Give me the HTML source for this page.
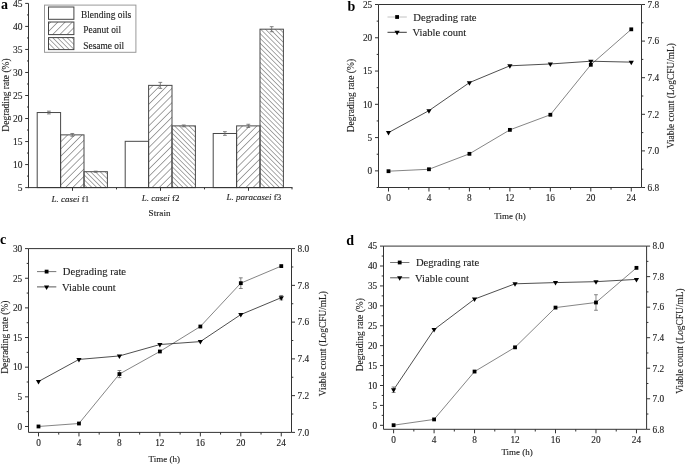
<!DOCTYPE html>
<html><head><meta charset="utf-8"><style>
html,body{margin:0;padding:0;background:#fff;width:685px;height:464px;overflow:hidden;}
svg{display:block;font-family:"Liberation Serif", serif;will-change:transform;}
</style></head><body>
<svg width="685" height="464" viewBox="0 0 685 464">
<rect width="685" height="464" fill="#fff"/>
<defs><pattern id="pn" patternUnits="userSpaceOnUse" width="5.1" height="5.1" patternTransform="rotate(45)"><line x1="0" y1="0" x2="0" y2="5.1" stroke="#404040" stroke-width="0.95"/></pattern><pattern id="ss" patternUnits="userSpaceOnUse" width="3.4" height="3.4" patternTransform="rotate(-45)"><line x1="0" y1="0" x2="0" y2="3.4" stroke="#404040" stroke-width="0.9"/></pattern></defs>
<text x="1" y="8.6" font-size="14" text-anchor="start" font-weight="bold" font-style="normal" fill="#000" >a</text>
<rect x="37.2" y="112.54" width="23.4" height="75.06" fill="#fff" stroke="#484848" stroke-width="1"/>
<rect x="60.6" y="134.87" width="23.4" height="52.73" fill="url(#pn)" stroke="#484848" stroke-width="1"/>
<rect x="84" y="171.71" width="23.4" height="15.89" fill="url(#ss)" stroke="#484848" stroke-width="1"/>
<rect x="125.2" y="141.32" width="23.4" height="46.28" fill="#fff" stroke="#484848" stroke-width="1"/>
<rect x="148.6" y="85.37" width="23.4" height="102.23" fill="url(#pn)" stroke="#484848" stroke-width="1"/>
<rect x="172" y="125.89" width="23.4" height="61.71" fill="url(#ss)" stroke="#484848" stroke-width="1"/>
<rect x="213.2" y="133.49" width="23.4" height="54.11" fill="#fff" stroke="#484848" stroke-width="1"/>
<rect x="236.6" y="125.89" width="23.4" height="61.71" fill="url(#pn)" stroke="#484848" stroke-width="1"/>
<rect x="260" y="29.19" width="23.4" height="158.41" fill="url(#ss)" stroke="#484848" stroke-width="1"/>
<line x1="48.9" y1="111.16" x2="48.9" y2="113.92" stroke="#666" stroke-width="0.8" />
<line x1="47" y1="111.16" x2="50.8" y2="111.16" stroke="#666" stroke-width="0.8" />
<line x1="47" y1="113.92" x2="50.8" y2="113.92" stroke="#666" stroke-width="0.8" />
<line x1="72.3" y1="133.49" x2="72.3" y2="136.25" stroke="#666" stroke-width="0.8" />
<line x1="70.4" y1="133.49" x2="74.2" y2="133.49" stroke="#666" stroke-width="0.8" />
<line x1="70.4" y1="136.25" x2="74.2" y2="136.25" stroke="#666" stroke-width="0.8" />
<line x1="95.7" y1="171.16" x2="95.7" y2="172.27" stroke="#666" stroke-width="0.8" />
<line x1="93.8" y1="171.16" x2="97.6" y2="171.16" stroke="#666" stroke-width="0.8" />
<line x1="93.8" y1="172.27" x2="97.6" y2="172.27" stroke="#666" stroke-width="0.8" />
<line x1="160.3" y1="82.38" x2="160.3" y2="88.36" stroke="#666" stroke-width="0.8" />
<line x1="158.4" y1="82.38" x2="162.2" y2="82.38" stroke="#666" stroke-width="0.8" />
<line x1="158.4" y1="88.36" x2="162.2" y2="88.36" stroke="#666" stroke-width="0.8" />
<line x1="183.7" y1="124.97" x2="183.7" y2="126.81" stroke="#666" stroke-width="0.8" />
<line x1="181.8" y1="124.97" x2="185.6" y2="124.97" stroke="#666" stroke-width="0.8" />
<line x1="181.8" y1="126.81" x2="185.6" y2="126.81" stroke="#666" stroke-width="0.8" />
<line x1="224.9" y1="131.65" x2="224.9" y2="135.33" stroke="#666" stroke-width="0.8" />
<line x1="223" y1="131.65" x2="226.8" y2="131.65" stroke="#666" stroke-width="0.8" />
<line x1="223" y1="135.33" x2="226.8" y2="135.33" stroke="#666" stroke-width="0.8" />
<line x1="248.3" y1="124.28" x2="248.3" y2="127.5" stroke="#666" stroke-width="0.8" />
<line x1="246.4" y1="124.28" x2="250.2" y2="124.28" stroke="#666" stroke-width="0.8" />
<line x1="246.4" y1="127.5" x2="250.2" y2="127.5" stroke="#666" stroke-width="0.8" />
<line x1="271.7" y1="26.66" x2="271.7" y2="31.72" stroke="#666" stroke-width="0.8" />
<line x1="269.8" y1="26.66" x2="273.6" y2="26.66" stroke="#666" stroke-width="0.8" />
<line x1="269.8" y1="31.72" x2="273.6" y2="31.72" stroke="#666" stroke-width="0.8" />
<line x1="28.5" y1="3.4" x2="28.5" y2="188.1" stroke="#333" stroke-width="1" />
<line x1="28" y1="187.6" x2="292.5" y2="187.6" stroke="#333" stroke-width="1" />
<line x1="25.2" y1="187.6" x2="28.5" y2="187.6" stroke="#333" stroke-width="1" />
<text x="22.6" y="190.8" font-size="9.5" text-anchor="end" font-weight="normal" font-style="normal" fill="#222" stroke="#222" stroke-width="0.12" >5</text>
<line x1="25.2" y1="164.57" x2="28.5" y2="164.57" stroke="#333" stroke-width="1" />
<text x="22.6" y="167.77" font-size="9.5" text-anchor="end" font-weight="normal" font-style="normal" fill="#222" stroke="#222" stroke-width="0.12" >10</text>
<line x1="25.2" y1="141.55" x2="28.5" y2="141.55" stroke="#333" stroke-width="1" />
<text x="22.6" y="144.75" font-size="9.5" text-anchor="end" font-weight="normal" font-style="normal" fill="#222" stroke="#222" stroke-width="0.12" >15</text>
<line x1="25.2" y1="118.52" x2="28.5" y2="118.52" stroke="#333" stroke-width="1" />
<text x="22.6" y="121.72" font-size="9.5" text-anchor="end" font-weight="normal" font-style="normal" fill="#222" stroke="#222" stroke-width="0.12" >20</text>
<line x1="25.2" y1="95.5" x2="28.5" y2="95.5" stroke="#333" stroke-width="1" />
<text x="22.6" y="98.7" font-size="9.5" text-anchor="end" font-weight="normal" font-style="normal" fill="#222" stroke="#222" stroke-width="0.12" >25</text>
<line x1="25.2" y1="72.47" x2="28.5" y2="72.47" stroke="#333" stroke-width="1" />
<text x="22.6" y="75.67" font-size="9.5" text-anchor="end" font-weight="normal" font-style="normal" fill="#222" stroke="#222" stroke-width="0.12" >30</text>
<line x1="25.2" y1="49.45" x2="28.5" y2="49.45" stroke="#333" stroke-width="1" />
<text x="22.6" y="52.65" font-size="9.5" text-anchor="end" font-weight="normal" font-style="normal" fill="#222" stroke="#222" stroke-width="0.12" >35</text>
<line x1="25.2" y1="26.42" x2="28.5" y2="26.42" stroke="#333" stroke-width="1" />
<text x="22.6" y="29.62" font-size="9.5" text-anchor="end" font-weight="normal" font-style="normal" fill="#222" stroke="#222" stroke-width="0.12" >40</text>
<line x1="25.2" y1="3.4" x2="28.5" y2="3.4" stroke="#333" stroke-width="1" />
<text x="22.6" y="6.6" font-size="9.5" text-anchor="end" font-weight="normal" font-style="normal" fill="#222" stroke="#222" stroke-width="0.12" >45</text>
<line x1="27" y1="176.09" x2="28.5" y2="176.09" stroke="#333" stroke-width="1" />
<line x1="27" y1="153.06" x2="28.5" y2="153.06" stroke="#333" stroke-width="1" />
<line x1="27" y1="130.04" x2="28.5" y2="130.04" stroke="#333" stroke-width="1" />
<line x1="27" y1="107.01" x2="28.5" y2="107.01" stroke="#333" stroke-width="1" />
<line x1="27" y1="83.99" x2="28.5" y2="83.99" stroke="#333" stroke-width="1" />
<line x1="27" y1="60.96" x2="28.5" y2="60.96" stroke="#333" stroke-width="1" />
<line x1="27" y1="37.94" x2="28.5" y2="37.94" stroke="#333" stroke-width="1" />
<line x1="27" y1="14.91" x2="28.5" y2="14.91" stroke="#333" stroke-width="1" />
<line x1="72.5" y1="187.6" x2="72.5" y2="190.8" stroke="#333" stroke-width="1" />
<line x1="160.5" y1="187.6" x2="160.5" y2="190.8" stroke="#333" stroke-width="1" />
<line x1="248.5" y1="187.6" x2="248.5" y2="190.8" stroke="#333" stroke-width="1" />
<line x1="116.5" y1="187.6" x2="116.5" y2="189.4" stroke="#333" stroke-width="1" />
<line x1="204.5" y1="187.6" x2="204.5" y2="189.4" stroke="#333" stroke-width="1" />
<line x1="292" y1="187.6" x2="292" y2="189.4" stroke="#333" stroke-width="1" />
<text x="51.4" y="201.6" font-size="9" text-anchor="start" font-weight="normal" font-style="normal" fill="#222" stroke="#222" stroke-width="0.12" ><tspan font-style="italic">L. casei</tspan> f1</text>
<text x="141.7" y="201" font-size="9" text-anchor="start" font-weight="normal" font-style="normal" fill="#222" stroke="#222" stroke-width="0.12" ><tspan font-style="italic">L. casei</tspan> f2</text>
<text x="226.4" y="200.4" font-size="9" text-anchor="start" font-weight="normal" font-style="normal" fill="#222" stroke="#222" stroke-width="0.12" ><tspan font-style="italic">L. paracasei</tspan> f3</text>
<text x="148.6" y="215.6" font-size="9.2" text-anchor="start" font-weight="normal" font-style="normal" fill="#222" stroke="#222" stroke-width="0.12" >Strain</text>
<text x="9.2" y="95" font-size="9.5" text-anchor="middle" font-weight="normal" font-style="normal" fill="#222" stroke="#222" stroke-width="0.12" transform="rotate(-90 9.2 95)" >Degrading rate (%)</text>
<rect x="44.5" y="5.1" width="91.4" height="47.2" fill="none" stroke="#999" stroke-width="1"/>
<rect x="48.5" y="7" width="25.4" height="12.3" fill="#fff" stroke="#444" stroke-width="1"/>
<rect x="48.5" y="22" width="25.4" height="12.6" fill="url(#pn)" stroke="#444" stroke-width="1"/>
<rect x="48.5" y="37.6" width="25.4" height="12" fill="url(#ss)" stroke="#444" stroke-width="1"/>
<text x="81" y="18.1" font-size="9.4" text-anchor="start" font-weight="normal" font-style="normal" fill="#222" stroke="#222" stroke-width="0.12" >Blending oils</text>
<text x="83.3" y="33.3" font-size="9.4" text-anchor="start" font-weight="normal" font-style="normal" fill="#222" stroke="#222" stroke-width="0.12" >Peanut oil</text>
<text x="83.3" y="48.9" font-size="9.4" text-anchor="start" font-weight="normal" font-style="normal" fill="#222" stroke="#222" stroke-width="0.12" >Sesame oil</text>
<text x="347.5" y="11" font-size="14" text-anchor="start" font-weight="bold" font-style="normal" fill="#000" >b</text>
<polyline fill="none" stroke="#555" stroke-width="0.72" points="388.5,171.2 428.96,169.27 469.42,153.83 509.88,129.87 550.35,114.77 590.81,64.79 631.27,29.32"/>
<polyline fill="none" stroke="#222" stroke-width="0.8" points="388.5,132.6 428.96,110.64 469.42,82.64 509.88,65.8 550.35,63.98 590.81,61.23 631.27,62.14"/>
<rect x="386.6" y="169.3" width="3.8" height="3.8" fill="#000"/>
<rect x="427.06" y="167.37" width="3.8" height="3.8" fill="#000"/>
<rect x="467.52" y="151.93" width="3.8" height="3.8" fill="#000"/>
<rect x="507.98" y="127.97" width="3.8" height="3.8" fill="#000"/>
<rect x="548.45" y="112.87" width="3.8" height="3.8" fill="#000"/>
<rect x="588.91" y="62.89" width="3.8" height="3.8" fill="#000"/>
<rect x="629.37" y="27.42" width="3.8" height="3.8" fill="#000"/>
<polygon points="385.9,131.1 391.1,131.1 388.5,135.6" fill="#000"/>
<polygon points="426.36,109.14 431.56,109.14 428.96,113.64" fill="#000"/>
<polygon points="466.82,81.14 472.02,81.14 469.42,85.64" fill="#000"/>
<polygon points="507.28,64.3 512.48,64.3 509.88,68.8" fill="#000"/>
<polygon points="547.75,62.48 552.95,62.48 550.35,66.98" fill="#000"/>
<polygon points="588.21,59.73 593.41,59.73 590.81,64.23" fill="#000"/>
<polygon points="628.67,60.64 633.87,60.64 631.27,65.14" fill="#000"/>
<line x1="378.5" y1="4.5" x2="641.5" y2="4.5" stroke="#333" stroke-width="1" />
<line x1="378.5" y1="187.5" x2="641.5" y2="187.5" stroke="#333" stroke-width="1" />
<line x1="378.5" y1="4.5" x2="378.5" y2="187.5" stroke="#333" stroke-width="1" />
<line x1="641.5" y1="4.5" x2="641.5" y2="187.5" stroke="#333" stroke-width="1" />
<line x1="376.7" y1="187.5" x2="378.5" y2="187.5" stroke="#333" stroke-width="1" />
<line x1="375" y1="170.86" x2="378.5" y2="170.86" stroke="#333" stroke-width="1" />
<text x="372.2" y="174.16" font-size="9.3" text-anchor="end" font-weight="normal" font-style="normal" fill="#222" stroke="#222" stroke-width="0.12" >0</text>
<line x1="376.7" y1="154.23" x2="378.5" y2="154.23" stroke="#333" stroke-width="1" />
<line x1="375" y1="137.59" x2="378.5" y2="137.59" stroke="#333" stroke-width="1" />
<text x="372.2" y="140.89" font-size="9.3" text-anchor="end" font-weight="normal" font-style="normal" fill="#222" stroke="#222" stroke-width="0.12" >5</text>
<line x1="376.7" y1="120.95" x2="378.5" y2="120.95" stroke="#333" stroke-width="1" />
<line x1="375" y1="104.32" x2="378.5" y2="104.32" stroke="#333" stroke-width="1" />
<text x="372.2" y="107.62" font-size="9.3" text-anchor="end" font-weight="normal" font-style="normal" fill="#222" stroke="#222" stroke-width="0.12" >10</text>
<line x1="376.7" y1="87.68" x2="378.5" y2="87.68" stroke="#333" stroke-width="1" />
<line x1="375" y1="71.05" x2="378.5" y2="71.05" stroke="#333" stroke-width="1" />
<text x="372.2" y="74.35" font-size="9.3" text-anchor="end" font-weight="normal" font-style="normal" fill="#222" stroke="#222" stroke-width="0.12" >15</text>
<line x1="376.7" y1="54.41" x2="378.5" y2="54.41" stroke="#333" stroke-width="1" />
<line x1="375" y1="37.77" x2="378.5" y2="37.77" stroke="#333" stroke-width="1" />
<text x="372.2" y="41.07" font-size="9.3" text-anchor="end" font-weight="normal" font-style="normal" fill="#222" stroke="#222" stroke-width="0.12" >20</text>
<line x1="376.7" y1="21.14" x2="378.5" y2="21.14" stroke="#333" stroke-width="1" />
<line x1="375" y1="4.5" x2="378.5" y2="4.5" stroke="#333" stroke-width="1" />
<text x="372.2" y="7.8" font-size="9.3" text-anchor="end" font-weight="normal" font-style="normal" fill="#222" stroke="#222" stroke-width="0.12" >25</text>
<line x1="641.5" y1="187.5" x2="645" y2="187.5" stroke="#333" stroke-width="1" />
<text x="647.5" y="190.8" font-size="9.3" text-anchor="start" font-weight="normal" font-style="normal" fill="#222" stroke="#222" stroke-width="0.12" >6.8</text>
<line x1="641.5" y1="169.2" x2="643.3" y2="169.2" stroke="#333" stroke-width="1" />
<line x1="641.5" y1="150.9" x2="645" y2="150.9" stroke="#333" stroke-width="1" />
<text x="647.5" y="154.2" font-size="9.3" text-anchor="start" font-weight="normal" font-style="normal" fill="#222" stroke="#222" stroke-width="0.12" >7.0</text>
<line x1="641.5" y1="132.6" x2="643.3" y2="132.6" stroke="#333" stroke-width="1" />
<line x1="641.5" y1="114.3" x2="645" y2="114.3" stroke="#333" stroke-width="1" />
<text x="647.5" y="117.6" font-size="9.3" text-anchor="start" font-weight="normal" font-style="normal" fill="#222" stroke="#222" stroke-width="0.12" >7.2</text>
<line x1="641.5" y1="96" x2="643.3" y2="96" stroke="#333" stroke-width="1" />
<line x1="641.5" y1="77.7" x2="645" y2="77.7" stroke="#333" stroke-width="1" />
<text x="647.5" y="81" font-size="9.3" text-anchor="start" font-weight="normal" font-style="normal" fill="#222" stroke="#222" stroke-width="0.12" >7.4</text>
<line x1="641.5" y1="59.4" x2="643.3" y2="59.4" stroke="#333" stroke-width="1" />
<line x1="641.5" y1="41.1" x2="645" y2="41.1" stroke="#333" stroke-width="1" />
<text x="647.5" y="44.4" font-size="9.3" text-anchor="start" font-weight="normal" font-style="normal" fill="#222" stroke="#222" stroke-width="0.12" >7.6</text>
<line x1="641.5" y1="22.8" x2="643.3" y2="22.8" stroke="#333" stroke-width="1" />
<line x1="641.5" y1="4.5" x2="645" y2="4.5" stroke="#333" stroke-width="1" />
<text x="647.5" y="7.8" font-size="9.3" text-anchor="start" font-weight="normal" font-style="normal" fill="#222" stroke="#222" stroke-width="0.12" >7.8</text>
<line x1="388.5" y1="187.5" x2="388.5" y2="191.5" stroke="#333" stroke-width="1" />
<text x="388.5" y="201.3" font-size="9.3" text-anchor="middle" font-weight="normal" font-style="normal" fill="#222" stroke="#222" stroke-width="0.12" >0</text>
<line x1="408.73" y1="187.5" x2="408.73" y2="189.7" stroke="#333" stroke-width="1" />
<line x1="428.96" y1="187.5" x2="428.96" y2="191.5" stroke="#333" stroke-width="1" />
<text x="428.96" y="201.3" font-size="9.3" text-anchor="middle" font-weight="normal" font-style="normal" fill="#222" stroke="#222" stroke-width="0.12" >4</text>
<line x1="449.19" y1="187.5" x2="449.19" y2="189.7" stroke="#333" stroke-width="1" />
<line x1="469.42" y1="187.5" x2="469.42" y2="191.5" stroke="#333" stroke-width="1" />
<text x="469.42" y="201.3" font-size="9.3" text-anchor="middle" font-weight="normal" font-style="normal" fill="#222" stroke="#222" stroke-width="0.12" >8</text>
<line x1="489.65" y1="187.5" x2="489.65" y2="189.7" stroke="#333" stroke-width="1" />
<line x1="509.88" y1="187.5" x2="509.88" y2="191.5" stroke="#333" stroke-width="1" />
<text x="509.88" y="201.3" font-size="9.3" text-anchor="middle" font-weight="normal" font-style="normal" fill="#222" stroke="#222" stroke-width="0.12" >12</text>
<line x1="530.12" y1="187.5" x2="530.12" y2="189.7" stroke="#333" stroke-width="1" />
<line x1="550.35" y1="187.5" x2="550.35" y2="191.5" stroke="#333" stroke-width="1" />
<text x="550.35" y="201.3" font-size="9.3" text-anchor="middle" font-weight="normal" font-style="normal" fill="#222" stroke="#222" stroke-width="0.12" >16</text>
<line x1="570.58" y1="187.5" x2="570.58" y2="189.7" stroke="#333" stroke-width="1" />
<line x1="590.81" y1="187.5" x2="590.81" y2="191.5" stroke="#333" stroke-width="1" />
<text x="590.81" y="201.3" font-size="9.3" text-anchor="middle" font-weight="normal" font-style="normal" fill="#222" stroke="#222" stroke-width="0.12" >20</text>
<line x1="611.04" y1="187.5" x2="611.04" y2="189.7" stroke="#333" stroke-width="1" />
<line x1="631.27" y1="187.5" x2="631.27" y2="191.5" stroke="#333" stroke-width="1" />
<text x="631.27" y="201.3" font-size="9.3" text-anchor="middle" font-weight="normal" font-style="normal" fill="#222" stroke="#222" stroke-width="0.12" >24</text>
<text x="510.05" y="218.5" font-size="9" text-anchor="middle" font-weight="normal" font-style="normal" fill="#222" stroke="#222" stroke-width="0.12" >Time (h)</text>
<text x="354" y="95.6" font-size="9.5" text-anchor="middle" font-weight="normal" font-style="normal" fill="#222" stroke="#222" stroke-width="0.12" transform="rotate(-90 354 95.6)" >Degrading rate (%)</text>
<text x="674.3" y="95.65" font-size="9.4" text-anchor="middle" font-weight="normal" font-style="normal" fill="#222" stroke="#222" stroke-width="0.12" transform="rotate(-90 674.3 95.65)" >Viable count (LogCFU/mL)</text>
<line x1="387.5" y1="17" x2="406.8" y2="17" stroke="#bbb" stroke-width="0.9" />
<rect x="395.2" y="15.1" width="3.8" height="3.8" fill="#000"/>
<line x1="387.5" y1="32.3" x2="406.8" y2="32.3" stroke="#222" stroke-width="0.9" />
<polygon points="394.5,30.8 399.7,30.8 397.1,35.3" fill="#000"/>
<text x="413.3" y="20.8" font-size="10.6" text-anchor="start" font-weight="normal" font-style="normal" fill="#222" stroke="#222" stroke-width="0.12" >Degrading rate</text>
<text x="412.5" y="36" font-size="10.6" text-anchor="start" font-weight="normal" font-style="normal" fill="#222" stroke="#222" stroke-width="0.12" >Viable count</text>
<text x="0" y="243.6" font-size="14" text-anchor="start" font-weight="bold" font-style="normal" fill="#000" >c</text>
<polyline fill="none" stroke="#555" stroke-width="0.72" points="38.5,426.47 78.96,423.51 119.42,374.06 159.88,351.47 200.35,326.51 240.81,283.17 281.27,266.09"/>
<polyline fill="none" stroke="#222" stroke-width="0.8" points="38.5,381.49 78.96,359.43 119.42,355.94 159.88,344.54 200.35,341.6 240.81,314.58 281.27,297.67"/>
<line x1="119.42" y1="370.5" x2="119.42" y2="377.62" stroke="#666" stroke-width="0.8" />
<line x1="117.52" y1="370.5" x2="121.32" y2="370.5" stroke="#666" stroke-width="0.8" />
<line x1="117.52" y1="377.62" x2="121.32" y2="377.62" stroke="#666" stroke-width="0.8" />
<line x1="240.81" y1="277.83" x2="240.81" y2="288.5" stroke="#666" stroke-width="0.8" />
<line x1="238.91" y1="277.83" x2="242.71" y2="277.83" stroke="#666" stroke-width="0.8" />
<line x1="238.91" y1="288.5" x2="242.71" y2="288.5" stroke="#666" stroke-width="0.8" />
<line x1="281.27" y1="295.47" x2="281.27" y2="299.88" stroke="#666" stroke-width="0.8" />
<line x1="279.37" y1="295.47" x2="283.17" y2="295.47" stroke="#666" stroke-width="0.8" />
<line x1="279.37" y1="299.88" x2="283.17" y2="299.88" stroke="#666" stroke-width="0.8" />
<rect x="36.6" y="424.57" width="3.8" height="3.8" fill="#000"/>
<rect x="77.06" y="421.61" width="3.8" height="3.8" fill="#000"/>
<rect x="117.52" y="372.16" width="3.8" height="3.8" fill="#000"/>
<rect x="157.98" y="349.57" width="3.8" height="3.8" fill="#000"/>
<rect x="198.45" y="324.61" width="3.8" height="3.8" fill="#000"/>
<rect x="238.91" y="281.27" width="3.8" height="3.8" fill="#000"/>
<rect x="279.37" y="264.19" width="3.8" height="3.8" fill="#000"/>
<polygon points="35.9,379.99 41.1,379.99 38.5,384.49" fill="#000"/>
<polygon points="76.36,357.93 81.56,357.93 78.96,362.43" fill="#000"/>
<polygon points="116.82,354.44 122.02,354.44 119.42,358.94" fill="#000"/>
<polygon points="157.28,343.04 162.48,343.04 159.88,347.54" fill="#000"/>
<polygon points="197.75,340.1 202.95,340.1 200.35,344.6" fill="#000"/>
<polygon points="238.21,313.08 243.41,313.08 240.81,317.58" fill="#000"/>
<polygon points="278.67,296.17 283.87,296.17 281.27,300.67" fill="#000"/>
<line x1="28.5" y1="248.6" x2="291.5" y2="248.6" stroke="#333" stroke-width="1" />
<line x1="28.5" y1="432.4" x2="291.5" y2="432.4" stroke="#333" stroke-width="1" />
<line x1="28.5" y1="248.6" x2="28.5" y2="432.4" stroke="#333" stroke-width="1" />
<line x1="291.5" y1="248.6" x2="291.5" y2="432.4" stroke="#333" stroke-width="1" />
<line x1="25" y1="426.47" x2="28.5" y2="426.47" stroke="#333" stroke-width="1" />
<text x="22.2" y="429.77" font-size="9.3" text-anchor="end" font-weight="normal" font-style="normal" fill="#222" stroke="#222" stroke-width="0.12" >0</text>
<line x1="26.7" y1="411.65" x2="28.5" y2="411.65" stroke="#333" stroke-width="1" />
<line x1="25" y1="396.83" x2="28.5" y2="396.83" stroke="#333" stroke-width="1" />
<text x="22.2" y="400.13" font-size="9.3" text-anchor="end" font-weight="normal" font-style="normal" fill="#222" stroke="#222" stroke-width="0.12" >5</text>
<line x1="26.7" y1="382" x2="28.5" y2="382" stroke="#333" stroke-width="1" />
<line x1="25" y1="367.18" x2="28.5" y2="367.18" stroke="#333" stroke-width="1" />
<text x="22.2" y="370.48" font-size="9.3" text-anchor="end" font-weight="normal" font-style="normal" fill="#222" stroke="#222" stroke-width="0.12" >10</text>
<line x1="26.7" y1="352.36" x2="28.5" y2="352.36" stroke="#333" stroke-width="1" />
<line x1="25" y1="337.54" x2="28.5" y2="337.54" stroke="#333" stroke-width="1" />
<text x="22.2" y="340.84" font-size="9.3" text-anchor="end" font-weight="normal" font-style="normal" fill="#222" stroke="#222" stroke-width="0.12" >15</text>
<line x1="26.7" y1="322.71" x2="28.5" y2="322.71" stroke="#333" stroke-width="1" />
<line x1="25" y1="307.89" x2="28.5" y2="307.89" stroke="#333" stroke-width="1" />
<text x="22.2" y="311.19" font-size="9.3" text-anchor="end" font-weight="normal" font-style="normal" fill="#222" stroke="#222" stroke-width="0.12" >20</text>
<line x1="26.7" y1="293.07" x2="28.5" y2="293.07" stroke="#333" stroke-width="1" />
<line x1="25" y1="278.25" x2="28.5" y2="278.25" stroke="#333" stroke-width="1" />
<text x="22.2" y="281.55" font-size="9.3" text-anchor="end" font-weight="normal" font-style="normal" fill="#222" stroke="#222" stroke-width="0.12" >25</text>
<line x1="26.7" y1="263.42" x2="28.5" y2="263.42" stroke="#333" stroke-width="1" />
<line x1="25" y1="248.6" x2="28.5" y2="248.6" stroke="#333" stroke-width="1" />
<text x="22.2" y="251.9" font-size="9.3" text-anchor="end" font-weight="normal" font-style="normal" fill="#222" stroke="#222" stroke-width="0.12" >30</text>
<line x1="291.5" y1="432.4" x2="295" y2="432.4" stroke="#333" stroke-width="1" />
<text x="297.5" y="435.7" font-size="9.3" text-anchor="start" font-weight="normal" font-style="normal" fill="#222" stroke="#222" stroke-width="0.12" >7.0</text>
<line x1="291.5" y1="414.02" x2="293.3" y2="414.02" stroke="#333" stroke-width="1" />
<line x1="291.5" y1="395.64" x2="295" y2="395.64" stroke="#333" stroke-width="1" />
<text x="297.5" y="398.94" font-size="9.3" text-anchor="start" font-weight="normal" font-style="normal" fill="#222" stroke="#222" stroke-width="0.12" >7.2</text>
<line x1="291.5" y1="377.26" x2="293.3" y2="377.26" stroke="#333" stroke-width="1" />
<line x1="291.5" y1="358.88" x2="295" y2="358.88" stroke="#333" stroke-width="1" />
<text x="297.5" y="362.18" font-size="9.3" text-anchor="start" font-weight="normal" font-style="normal" fill="#222" stroke="#222" stroke-width="0.12" >7.4</text>
<line x1="291.5" y1="340.5" x2="293.3" y2="340.5" stroke="#333" stroke-width="1" />
<line x1="291.5" y1="322.12" x2="295" y2="322.12" stroke="#333" stroke-width="1" />
<text x="297.5" y="325.42" font-size="9.3" text-anchor="start" font-weight="normal" font-style="normal" fill="#222" stroke="#222" stroke-width="0.12" >7.6</text>
<line x1="291.5" y1="303.74" x2="293.3" y2="303.74" stroke="#333" stroke-width="1" />
<line x1="291.5" y1="285.36" x2="295" y2="285.36" stroke="#333" stroke-width="1" />
<text x="297.5" y="288.66" font-size="9.3" text-anchor="start" font-weight="normal" font-style="normal" fill="#222" stroke="#222" stroke-width="0.12" >7.8</text>
<line x1="291.5" y1="266.98" x2="293.3" y2="266.98" stroke="#333" stroke-width="1" />
<line x1="291.5" y1="248.6" x2="295" y2="248.6" stroke="#333" stroke-width="1" />
<text x="297.5" y="251.9" font-size="9.3" text-anchor="start" font-weight="normal" font-style="normal" fill="#222" stroke="#222" stroke-width="0.12" >8.0</text>
<line x1="38.5" y1="432.4" x2="38.5" y2="436.4" stroke="#333" stroke-width="1" />
<text x="38.5" y="446.2" font-size="9.3" text-anchor="middle" font-weight="normal" font-style="normal" fill="#222" stroke="#222" stroke-width="0.12" >0</text>
<line x1="58.73" y1="432.4" x2="58.73" y2="434.6" stroke="#333" stroke-width="1" />
<line x1="78.96" y1="432.4" x2="78.96" y2="436.4" stroke="#333" stroke-width="1" />
<text x="78.96" y="446.2" font-size="9.3" text-anchor="middle" font-weight="normal" font-style="normal" fill="#222" stroke="#222" stroke-width="0.12" >4</text>
<line x1="99.19" y1="432.4" x2="99.19" y2="434.6" stroke="#333" stroke-width="1" />
<line x1="119.42" y1="432.4" x2="119.42" y2="436.4" stroke="#333" stroke-width="1" />
<text x="119.42" y="446.2" font-size="9.3" text-anchor="middle" font-weight="normal" font-style="normal" fill="#222" stroke="#222" stroke-width="0.12" >8</text>
<line x1="139.65" y1="432.4" x2="139.65" y2="434.6" stroke="#333" stroke-width="1" />
<line x1="159.88" y1="432.4" x2="159.88" y2="436.4" stroke="#333" stroke-width="1" />
<text x="159.88" y="446.2" font-size="9.3" text-anchor="middle" font-weight="normal" font-style="normal" fill="#222" stroke="#222" stroke-width="0.12" >12</text>
<line x1="180.12" y1="432.4" x2="180.12" y2="434.6" stroke="#333" stroke-width="1" />
<line x1="200.35" y1="432.4" x2="200.35" y2="436.4" stroke="#333" stroke-width="1" />
<text x="200.35" y="446.2" font-size="9.3" text-anchor="middle" font-weight="normal" font-style="normal" fill="#222" stroke="#222" stroke-width="0.12" >16</text>
<line x1="220.58" y1="432.4" x2="220.58" y2="434.6" stroke="#333" stroke-width="1" />
<line x1="240.81" y1="432.4" x2="240.81" y2="436.4" stroke="#333" stroke-width="1" />
<text x="240.81" y="446.2" font-size="9.3" text-anchor="middle" font-weight="normal" font-style="normal" fill="#222" stroke="#222" stroke-width="0.12" >20</text>
<line x1="261.04" y1="432.4" x2="261.04" y2="434.6" stroke="#333" stroke-width="1" />
<line x1="281.27" y1="432.4" x2="281.27" y2="436.4" stroke="#333" stroke-width="1" />
<text x="281.27" y="446.2" font-size="9.3" text-anchor="middle" font-weight="normal" font-style="normal" fill="#222" stroke="#222" stroke-width="0.12" >24</text>
<text x="164.2" y="461.7" font-size="9" text-anchor="middle" font-weight="normal" font-style="normal" fill="#222" stroke="#222" stroke-width="0.12" >Time (h)</text>
<text x="8.2" y="337.2" font-size="9.5" text-anchor="middle" font-weight="normal" font-style="normal" fill="#222" stroke="#222" stroke-width="0.12" transform="rotate(-90 8.2 337.2)" >Degrading rate (%)</text>
<text x="326" y="343.6" font-size="9.4" text-anchor="middle" font-weight="normal" font-style="normal" fill="#222" stroke="#222" stroke-width="0.12" transform="rotate(-90 326 343.6)" >Viable count (LogCFU/mL)</text>
<line x1="37" y1="271.6" x2="56.3" y2="271.6" stroke="#666" stroke-width="0.9" />
<rect x="44.7" y="269.7" width="3.8" height="3.8" fill="#000"/>
<line x1="37" y1="286.9" x2="56.3" y2="286.9" stroke="#444" stroke-width="0.9" />
<polygon points="44,285.4 49.2,285.4 46.6,289.9" fill="#000"/>
<text x="62.8" y="275.4" font-size="10.6" text-anchor="start" font-weight="normal" font-style="normal" fill="#222" stroke="#222" stroke-width="0.12" >Degrading rate</text>
<text x="62" y="290.6" font-size="10.6" text-anchor="start" font-weight="normal" font-style="normal" fill="#222" stroke="#222" stroke-width="0.12" >Viable count</text>
<text x="346.2" y="245" font-size="14" text-anchor="start" font-weight="bold" font-style="normal" fill="#000" >d</text>
<polyline fill="none" stroke="#555" stroke-width="0.72" points="393.6,425.2 434.08,419.42 474.55,371.55 515.03,347.34 555.51,307.59 595.98,302.49 636.46,267.85"/>
<polyline fill="none" stroke="#222" stroke-width="0.8" points="393.6,389.76 434.08,329.61 474.55,299.08 515.03,283.81 555.51,282.59 595.98,281.67 636.46,279.38"/>
<line x1="595.98" y1="294.73" x2="595.98" y2="310.26" stroke="#666" stroke-width="0.8" />
<line x1="594.08" y1="294.73" x2="597.88" y2="294.73" stroke="#666" stroke-width="0.8" />
<line x1="594.08" y1="310.26" x2="597.88" y2="310.26" stroke="#666" stroke-width="0.8" />
<line x1="393.6" y1="387.01" x2="393.6" y2="392.51" stroke="#666" stroke-width="0.8" />
<line x1="391.7" y1="387.01" x2="395.5" y2="387.01" stroke="#666" stroke-width="0.8" />
<line x1="391.7" y1="392.51" x2="395.5" y2="392.51" stroke="#666" stroke-width="0.8" />
<rect x="391.7" y="423.3" width="3.8" height="3.8" fill="#000"/>
<rect x="432.18" y="417.52" width="3.8" height="3.8" fill="#000"/>
<rect x="472.65" y="369.65" width="3.8" height="3.8" fill="#000"/>
<rect x="513.13" y="345.44" width="3.8" height="3.8" fill="#000"/>
<rect x="553.61" y="305.69" width="3.8" height="3.8" fill="#000"/>
<rect x="594.08" y="300.59" width="3.8" height="3.8" fill="#000"/>
<rect x="634.56" y="265.95" width="3.8" height="3.8" fill="#000"/>
<polygon points="391,388.26 396.2,388.26 393.6,392.76" fill="#000"/>
<polygon points="431.48,328.11 436.68,328.11 434.08,332.61" fill="#000"/>
<polygon points="471.95,297.58 477.15,297.58 474.55,302.08" fill="#000"/>
<polygon points="512.43,282.31 517.63,282.31 515.03,286.81" fill="#000"/>
<polygon points="552.91,281.09 558.11,281.09 555.51,285.59" fill="#000"/>
<polygon points="593.38,280.17 598.58,280.17 595.98,284.67" fill="#000"/>
<polygon points="633.86,277.88 639.06,277.88 636.46,282.38" fill="#000"/>
<line x1="383.5" y1="246.1" x2="646.6" y2="246.1" stroke="#333" stroke-width="1" />
<line x1="383.5" y1="429.3" x2="646.6" y2="429.3" stroke="#333" stroke-width="1" />
<line x1="383.5" y1="246.1" x2="383.5" y2="429.3" stroke="#333" stroke-width="1" />
<line x1="646.6" y1="246.1" x2="646.6" y2="429.3" stroke="#333" stroke-width="1" />
<line x1="380" y1="425.32" x2="383.5" y2="425.32" stroke="#333" stroke-width="1" />
<text x="377.2" y="428.62" font-size="9.3" text-anchor="end" font-weight="normal" font-style="normal" fill="#222" stroke="#222" stroke-width="0.12" >0</text>
<line x1="381.7" y1="415.36" x2="383.5" y2="415.36" stroke="#333" stroke-width="1" />
<line x1="380" y1="405.4" x2="383.5" y2="405.4" stroke="#333" stroke-width="1" />
<text x="377.2" y="408.7" font-size="9.3" text-anchor="end" font-weight="normal" font-style="normal" fill="#222" stroke="#222" stroke-width="0.12" >5</text>
<line x1="381.7" y1="395.45" x2="383.5" y2="395.45" stroke="#333" stroke-width="1" />
<line x1="380" y1="385.49" x2="383.5" y2="385.49" stroke="#333" stroke-width="1" />
<text x="377.2" y="388.79" font-size="9.3" text-anchor="end" font-weight="normal" font-style="normal" fill="#222" stroke="#222" stroke-width="0.12" >10</text>
<line x1="381.7" y1="375.53" x2="383.5" y2="375.53" stroke="#333" stroke-width="1" />
<line x1="380" y1="365.58" x2="383.5" y2="365.58" stroke="#333" stroke-width="1" />
<text x="377.2" y="368.88" font-size="9.3" text-anchor="end" font-weight="normal" font-style="normal" fill="#222" stroke="#222" stroke-width="0.12" >15</text>
<line x1="381.7" y1="355.62" x2="383.5" y2="355.62" stroke="#333" stroke-width="1" />
<line x1="380" y1="345.67" x2="383.5" y2="345.67" stroke="#333" stroke-width="1" />
<text x="377.2" y="348.97" font-size="9.3" text-anchor="end" font-weight="normal" font-style="normal" fill="#222" stroke="#222" stroke-width="0.12" >20</text>
<line x1="381.7" y1="335.71" x2="383.5" y2="335.71" stroke="#333" stroke-width="1" />
<line x1="380" y1="325.75" x2="383.5" y2="325.75" stroke="#333" stroke-width="1" />
<text x="377.2" y="329.05" font-size="9.3" text-anchor="end" font-weight="normal" font-style="normal" fill="#222" stroke="#222" stroke-width="0.12" >25</text>
<line x1="381.7" y1="315.8" x2="383.5" y2="315.8" stroke="#333" stroke-width="1" />
<line x1="380" y1="305.84" x2="383.5" y2="305.84" stroke="#333" stroke-width="1" />
<text x="377.2" y="309.14" font-size="9.3" text-anchor="end" font-weight="normal" font-style="normal" fill="#222" stroke="#222" stroke-width="0.12" >30</text>
<line x1="381.7" y1="295.88" x2="383.5" y2="295.88" stroke="#333" stroke-width="1" />
<line x1="380" y1="285.93" x2="383.5" y2="285.93" stroke="#333" stroke-width="1" />
<text x="377.2" y="289.23" font-size="9.3" text-anchor="end" font-weight="normal" font-style="normal" fill="#222" stroke="#222" stroke-width="0.12" >35</text>
<line x1="381.7" y1="275.97" x2="383.5" y2="275.97" stroke="#333" stroke-width="1" />
<line x1="380" y1="266.01" x2="383.5" y2="266.01" stroke="#333" stroke-width="1" />
<text x="377.2" y="269.31" font-size="9.3" text-anchor="end" font-weight="normal" font-style="normal" fill="#222" stroke="#222" stroke-width="0.12" >40</text>
<line x1="381.7" y1="256.06" x2="383.5" y2="256.06" stroke="#333" stroke-width="1" />
<line x1="380" y1="246.1" x2="383.5" y2="246.1" stroke="#333" stroke-width="1" />
<text x="377.2" y="249.4" font-size="9.3" text-anchor="end" font-weight="normal" font-style="normal" fill="#222" stroke="#222" stroke-width="0.12" >45</text>
<line x1="646.6" y1="429.3" x2="650.1" y2="429.3" stroke="#333" stroke-width="1" />
<text x="652.6" y="432.6" font-size="9.3" text-anchor="start" font-weight="normal" font-style="normal" fill="#222" stroke="#222" stroke-width="0.12" >6.8</text>
<line x1="646.6" y1="414.03" x2="648.4" y2="414.03" stroke="#333" stroke-width="1" />
<line x1="646.6" y1="398.77" x2="650.1" y2="398.77" stroke="#333" stroke-width="1" />
<text x="652.6" y="402.07" font-size="9.3" text-anchor="start" font-weight="normal" font-style="normal" fill="#222" stroke="#222" stroke-width="0.12" >7.0</text>
<line x1="646.6" y1="383.5" x2="648.4" y2="383.5" stroke="#333" stroke-width="1" />
<line x1="646.6" y1="368.23" x2="650.1" y2="368.23" stroke="#333" stroke-width="1" />
<text x="652.6" y="371.53" font-size="9.3" text-anchor="start" font-weight="normal" font-style="normal" fill="#222" stroke="#222" stroke-width="0.12" >7.2</text>
<line x1="646.6" y1="352.97" x2="648.4" y2="352.97" stroke="#333" stroke-width="1" />
<line x1="646.6" y1="337.7" x2="650.1" y2="337.7" stroke="#333" stroke-width="1" />
<text x="652.6" y="341" font-size="9.3" text-anchor="start" font-weight="normal" font-style="normal" fill="#222" stroke="#222" stroke-width="0.12" >7.4</text>
<line x1="646.6" y1="322.43" x2="648.4" y2="322.43" stroke="#333" stroke-width="1" />
<line x1="646.6" y1="307.17" x2="650.1" y2="307.17" stroke="#333" stroke-width="1" />
<text x="652.6" y="310.47" font-size="9.3" text-anchor="start" font-weight="normal" font-style="normal" fill="#222" stroke="#222" stroke-width="0.12" >7.6</text>
<line x1="646.6" y1="291.9" x2="648.4" y2="291.9" stroke="#333" stroke-width="1" />
<line x1="646.6" y1="276.63" x2="650.1" y2="276.63" stroke="#333" stroke-width="1" />
<text x="652.6" y="279.93" font-size="9.3" text-anchor="start" font-weight="normal" font-style="normal" fill="#222" stroke="#222" stroke-width="0.12" >7.8</text>
<line x1="646.6" y1="261.37" x2="648.4" y2="261.37" stroke="#333" stroke-width="1" />
<line x1="646.6" y1="246.1" x2="650.1" y2="246.1" stroke="#333" stroke-width="1" />
<text x="652.6" y="249.4" font-size="9.3" text-anchor="start" font-weight="normal" font-style="normal" fill="#222" stroke="#222" stroke-width="0.12" >8.0</text>
<line x1="393.6" y1="429.3" x2="393.6" y2="433.3" stroke="#333" stroke-width="1" />
<text x="393.6" y="443.1" font-size="9.3" text-anchor="middle" font-weight="normal" font-style="normal" fill="#222" stroke="#222" stroke-width="0.12" >0</text>
<line x1="413.84" y1="429.3" x2="413.84" y2="431.5" stroke="#333" stroke-width="1" />
<line x1="434.08" y1="429.3" x2="434.08" y2="433.3" stroke="#333" stroke-width="1" />
<text x="434.08" y="443.1" font-size="9.3" text-anchor="middle" font-weight="normal" font-style="normal" fill="#222" stroke="#222" stroke-width="0.12" >4</text>
<line x1="454.32" y1="429.3" x2="454.32" y2="431.5" stroke="#333" stroke-width="1" />
<line x1="474.55" y1="429.3" x2="474.55" y2="433.3" stroke="#333" stroke-width="1" />
<text x="474.55" y="443.1" font-size="9.3" text-anchor="middle" font-weight="normal" font-style="normal" fill="#222" stroke="#222" stroke-width="0.12" >8</text>
<line x1="494.79" y1="429.3" x2="494.79" y2="431.5" stroke="#333" stroke-width="1" />
<line x1="515.03" y1="429.3" x2="515.03" y2="433.3" stroke="#333" stroke-width="1" />
<text x="515.03" y="443.1" font-size="9.3" text-anchor="middle" font-weight="normal" font-style="normal" fill="#222" stroke="#222" stroke-width="0.12" >12</text>
<line x1="535.27" y1="429.3" x2="535.27" y2="431.5" stroke="#333" stroke-width="1" />
<line x1="555.51" y1="429.3" x2="555.51" y2="433.3" stroke="#333" stroke-width="1" />
<text x="555.51" y="443.1" font-size="9.3" text-anchor="middle" font-weight="normal" font-style="normal" fill="#222" stroke="#222" stroke-width="0.12" >16</text>
<line x1="575.75" y1="429.3" x2="575.75" y2="431.5" stroke="#333" stroke-width="1" />
<line x1="595.98" y1="429.3" x2="595.98" y2="433.3" stroke="#333" stroke-width="1" />
<text x="595.98" y="443.1" font-size="9.3" text-anchor="middle" font-weight="normal" font-style="normal" fill="#222" stroke="#222" stroke-width="0.12" >20</text>
<line x1="616.22" y1="429.3" x2="616.22" y2="431.5" stroke="#333" stroke-width="1" />
<line x1="636.46" y1="429.3" x2="636.46" y2="433.3" stroke="#333" stroke-width="1" />
<text x="636.46" y="443.1" font-size="9.3" text-anchor="middle" font-weight="normal" font-style="normal" fill="#222" stroke="#222" stroke-width="0.12" >24</text>
<text x="517.15" y="455.3" font-size="9" text-anchor="middle" font-weight="normal" font-style="normal" fill="#222" stroke="#222" stroke-width="0.12" >Time (h)</text>
<text x="363" y="334.7" font-size="9.5" text-anchor="middle" font-weight="normal" font-style="normal" fill="#222" stroke="#222" stroke-width="0.12" transform="rotate(-90 363 334.7)" >Degrading rate (%)</text>
<text x="682.8" y="341.05" font-size="9.4" text-anchor="middle" font-weight="normal" font-style="normal" fill="#222" stroke="#222" stroke-width="0.12" transform="rotate(-90 682.8 341.05)" >Viable count (LogCFU/mL)</text>
<line x1="390.1" y1="262.5" x2="409.4" y2="262.5" stroke="#666" stroke-width="0.9" />
<rect x="397.8" y="260.6" width="3.8" height="3.8" fill="#000"/>
<line x1="390.1" y1="277.8" x2="409.4" y2="277.8" stroke="#444" stroke-width="0.9" />
<polygon points="397.1,276.3 402.3,276.3 399.7,280.8" fill="#000"/>
<text x="415.9" y="266.3" font-size="10.6" text-anchor="start" font-weight="normal" font-style="normal" fill="#222" stroke="#222" stroke-width="0.12" >Degrading rate</text>
<text x="415.1" y="281.5" font-size="10.6" text-anchor="start" font-weight="normal" font-style="normal" fill="#222" stroke="#222" stroke-width="0.12" >Viable count</text>
</svg>
</body></html>
